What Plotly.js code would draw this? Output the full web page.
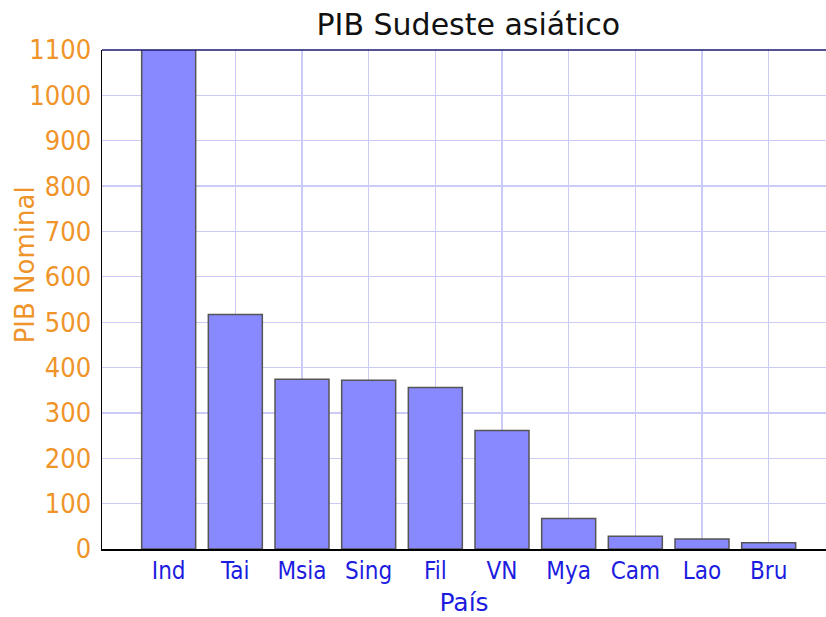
<!DOCTYPE html>
<html>
<head>
<meta charset="utf-8">
<script src="https://cdn.plot.ly/plotly-3.0.1.min.js"></script>
<style>body{margin:0;background:#fff}#chart{width:826px;height:617px}</style>
</head>
<body>
<div id="chart"></div>
<script>
const countries = ["Ind", "Tai", "Msia", "Sing", "Fil", "VN", "Mya", "Cam", "Lao", "Bru"];
const gdp = [1186, 517, 374, 372, 356, 261, 67, 28, 22, 14];
const yTicks = [0, 100, 200, 300, 400, 500, 600, 700, 800, 900, 1000, 1100];

const FONT = "DejaVu Sans Condensed, DejaVu Sans, sans-serif";
const WIDE = "DejaVu Sans, sans-serif";
const ORANGE = "#ee9429";
const BLUE = "#1c1ce0";

const trace = {
  type: "bar",
  x: countries,
  y: gdp,
  marker: {color: "#8888ff", line: {color: "#555555", width: 1.5}},
  hoverinfo: "x+y"
};

const layout = {
  width: 826, height: 617,
  margin: {l: 101.5, r: 0, t: 49.5, b: 68},
  paper_bgcolor: "#ffffff", plot_bgcolor: "#ffffff",
  bargap: 0.19,
  showlegend: false,
  title: {text: "PIB Sudeste asiático", font: {family: WIDE, size: 30, color: "#111111"},
          x: 0.567, xanchor: "center", y: 0.96, yanchor: "middle"},
  xaxis: {
    type: "category",
    range: [-1, 9.86],
    showgrid: true, gridcolor: "#cbcbf7", gridwidth: 1.2,
    showline: true, linecolor: "#000000", linewidth: 1.5,
    ticks: "", tickfont: {family: FONT, size: 24, color: BLUE},
    title: {text: "País", font: {family: WIDE, size: 25, color: BLUE}, standoff: 9},
    fixedrange: true
  },
  yaxis: {
    range: [0, 1100],
    tickvals: yTicks,
    showgrid: true, gridcolor: "#cbcbf7", gridwidth: 1.2,
    showline: true, linecolor: "#000000", linewidth: 1.5,
    ticks: "", tickfont: {family: FONT, size: 27, color: ORANGE},
    ticklabelstandoff: 4,
    zeroline: false,
    fixedrange: true
  },
  shapes: [{type: "line", xref: "paper", yref: "paper", x0: 0, x1: 1, y0: 1, y1: 1,
            line: {color: "#1a1a70", width: 1.5}}],
  annotations: [{
    text: "PIB Nominal", textangle: -90, showarrow: false,
    xref: "paper", yref: "paper", x: -0.106, y: 0.569, xanchor: "center", yanchor: "middle",
    font: {family: WIDE, size: 26, color: ORANGE}
  }]
};

Plotly.newPlot("chart", [trace], layout, {displayModeBar: false, staticPlot: true});
</script>
</body>
</html>
